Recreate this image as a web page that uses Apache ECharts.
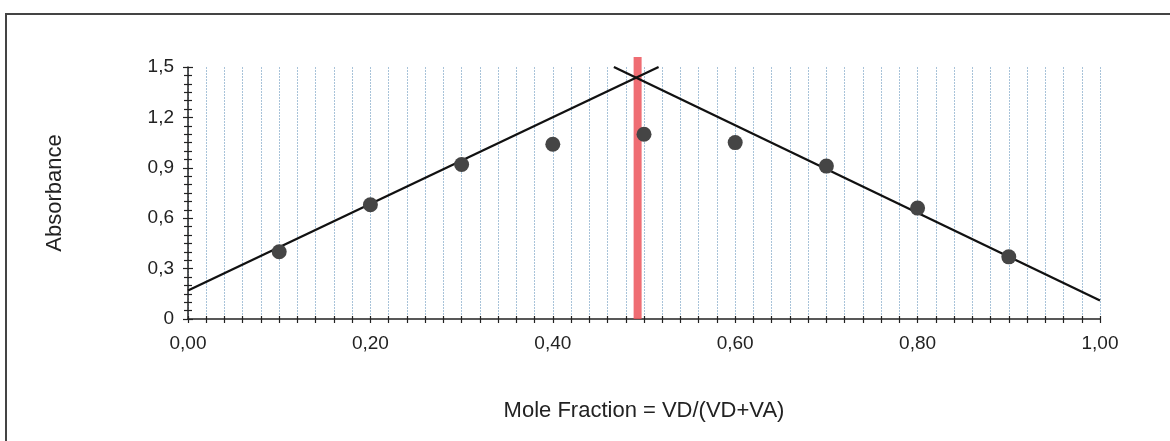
<!DOCTYPE html>
<html>
<head>
    <meta charset="utf-8">
    <title>Job plot</title>
    <script src="https://cdn.jsdelivr.net/npm/echarts@6/dist/echarts.min.js"></script>
    <style>
        html, body { margin: 0; padding: 0; background: #fff; }
    </style>
</head>
<body>
    <div id="main" style="width: 1170px;height:441px;"></div>
    <script type="text/javascript">

    // measured points (mole fraction, absorbance)
    var fractions = [0.1, 0.2, 0.3, 0.4, 0.5, 0.6, 0.7, 0.8, 0.9];
    var absorbances = [0.40, 0.68, 0.92, 1.04, 1.10, 1.05, 0.91, 0.66, 0.37];

    // hand drawn tangent lines (start, end)
    var leftLine = [[0, 0.17], [0.516, 1.5]];
    var rightLine = [[0.467, 1.5], [1.0, 0.11]];

    // red marker at the intersection
    var peakX = 0.493;
    var redLine = [[peakX, 0], [peakX, 1.56]];

    var xTicks = ['0,00', '0,20', '0,40', '0,60', '0,80', '1,00'];
    var yTicks = ['0', '0,3', '0,6', '0,9', '1,2', '1,5'];

    var points = [];
    for (var i = 0; i < fractions.length; i++) {
        points.push([fractions[i], absorbances[i]]);
    }

    var font = 'Liberation Sans, Arial, sans-serif';
    var gridStyle = {color: '#a8c3d9', width: 1, type: [2, 1]};

    var myChart = echarts.init(document.getElementById('main'));

    var option = {
        animation: false,
        backgroundColor: '#fff',
        graphic: [{
            type: 'rect',
            shape: {x: 6, y: 14, width: 1300, height: 600},
            style: {fill: 'none', stroke: '#444', lineWidth: 2},
            silent: true
        }],
        grid: {left: 188, right: 70, top: 67, bottom: 122},
        xAxis: [{
            type: 'value',
            min: 0, max: 1, interval: 0.2,
            name: 'Mole Fraction = VD/(VD+VA)',
            nameLocation: 'middle',
            nameGap: 81,
            nameTextStyle: {fontFamily: font, fontSize: 22, color: '#222'},
            axisLine: {lineStyle: {color: '#222', width: 1.5}},
            axisTick: {length: 4, lineStyle: {color: '#222', width: 1.2}},
            minorTick: {show: true, splitNumber: 10, length: 4, lineStyle: {color: '#222', width: 1.2}},
            splitLine: {show: true, lineStyle: gridStyle},
            minorSplitLine: {show: true, lineStyle: gridStyle},
            axisLabel: {
                fontFamily: font, fontSize: 19, color: '#222', margin: 15,
                formatter: function (v) { return xTicks[Math.round(v / 0.2)]; }
            }
        }, {
            // second copy so the ticks cross the axis line
            type: 'value',
            min: 0, max: 1, interval: 0.2,
            position: 'bottom',
            axisLine: {show: false},
            axisTick: {inside: true, length: 3, lineStyle: {color: '#222', width: 1.2}},
            minorTick: {show: true, splitNumber: 10, length: 3, lineStyle: {color: '#222', width: 1.2}},
            splitLine: {show: false},
            axisLabel: {show: false}
        }],
        yAxis: [{
            type: 'value',
            min: 0, max: 1.5, interval: 0.3,
            name: 'Absorbance',
            nameLocation: 'middle',
            nameGap: 122,
            nameRotate: 90,
            nameTextStyle: {fontFamily: font, fontSize: 22, color: '#222'},
            axisLine: {show: true, lineStyle: {color: '#222', width: 1.5}},
            axisTick: {show: true, length: 5, lineStyle: {color: '#222', width: 1.2}},
            minorTick: {show: true, splitNumber: 6, length: 4, lineStyle: {color: '#222', width: 1.2}},
            splitLine: {show: false},
            axisLabel: {
                fontFamily: font, fontSize: 19, color: '#222', margin: 14,
                formatter: function (v) { return yTicks[Math.round(v / 0.3)]; }
            }
        }, {
            type: 'value',
            min: 0, max: 1.5, interval: 0.3,
            position: 'left',
            axisLine: {show: false},
            axisTick: {show: true, inside: true, length: 5, lineStyle: {color: '#222', width: 1.2}},
            minorTick: {show: true, splitNumber: 6, length: 4, lineStyle: {color: '#222', width: 1.2}},
            splitLine: {show: false},
            axisLabel: {show: false}
        }],
        series: [
            {
                type: 'line',
                data: redLine,
                symbol: 'none',
                clip: false,
                lineStyle: {color: 'rgba(236, 84, 90, 0.85)', width: 8},
                z: 1
            },
            {
                type: 'line',
                data: leftLine,
                symbol: 'none',
                lineStyle: {color: '#111', width: 2.3},
                z: 2
            },
            {
                type: 'line',
                data: rightLine,
                symbol: 'none',
                lineStyle: {color: '#111', width: 2.3},
                z: 2
            },
            {
                type: 'scatter',
                data: points,
                symbolSize: 15,
                itemStyle: {color: '#454545', opacity: 1},
                z: 3
            }
        ]
    };

    myChart.setOption(option);
    </script>
</body>
</html>
